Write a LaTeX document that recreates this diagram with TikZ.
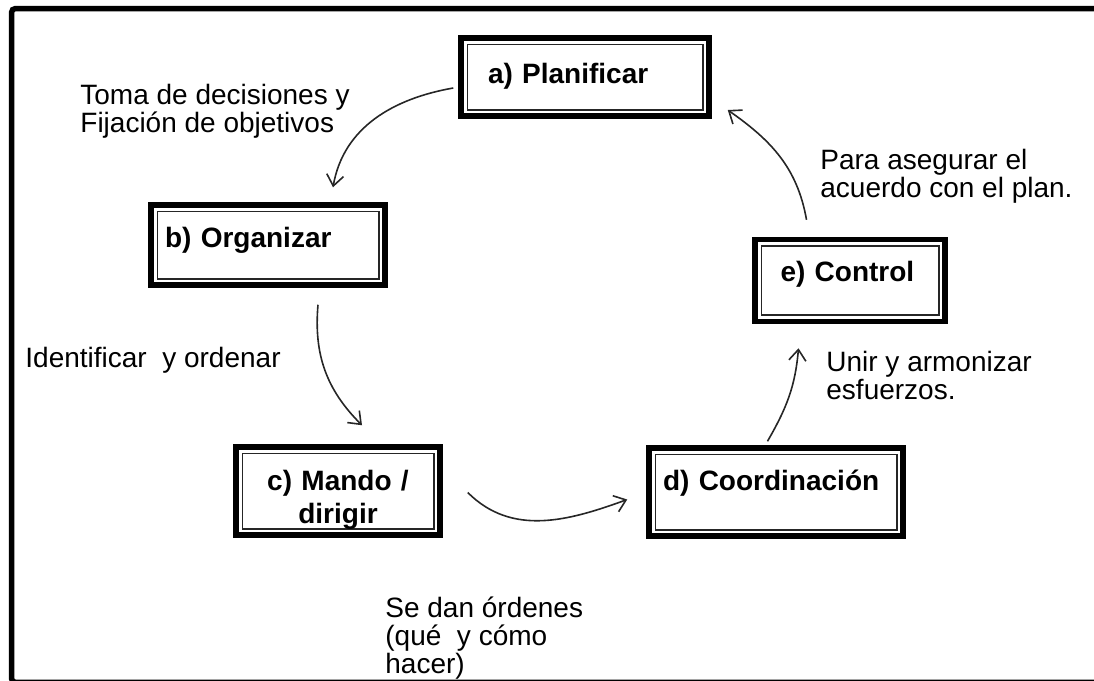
\documentclass[tikz,border=0pt]{standalone}
\usepackage{fontspec}
\setmainfont{Liberation Sans}
\usetikzlibrary{arrows.meta,positioning}

\begin{document}
\begin{tikzpicture}[node distance=100pt, >={Straight Barb[length=5.5pt,width=8.5pt]}]
    \useasboundingbox (0pt,0pt) rectangle (547pt,-340.5pt);
    \draw [line width=2.75pt, rounded corners=2pt] (5.75pt,-4.25pt) rectangle (560pt,-341.2pt);
    \tikzstyle{stage} = [rectangle, draw=black, line width=2.75pt, align=left, inner sep=0pt, text height=10pt, font=\bfseries\fontsize{14}{16.5}\selectfont, path picture={\draw [line width=0.9pt, draw=black!85] ([xshift=3.2pt,yshift=-3.2pt]path picture bounding box.north west) rectangle ([xshift=-3.2pt,yshift=3.2pt]path picture bounding box.south east);}]
    \node (a) [stage, text width=97pt, text depth=4pt, minimum width=124pt, minimum height=39pt] at (292.5pt,-38.5pt) {a) Planificar};
    \node (b) [stage, below of=a, xshift=-158.5pt, yshift=16pt, text width=103pt, text depth=8pt, minimum width=117pt, minimum height=40pt] {b) Organizar};
    \node (c) [stage, below of=b, xshift=35pt, yshift=-23pt, align=center, text width=90pt, text height=19pt, minimum width=102pt, minimum height=44pt] {c) Mando /\\dirigir};
    \node (d) [stage, right of=c, xshift=119pt, yshift=-0.5pt, text width=113pt, text depth=12pt, minimum width=127pt, minimum height=44pt] {d) Coordinación};
    \node (e) [stage, above of=d, xshift=37pt, yshift=5.75pt, text width=69.5pt, text depth=9pt, minimum width=95pt, minimum height=41pt] {e) Control};
    \tikzstyle{note} = [align=left, inner sep=0pt, anchor=north west, font=\fontsize{14}{14}\selectfont]
    \node (t1) [note] at (40pt,-42pt) {Toma de decisiones y\\Fijación de objetivos};
    \node (t2) [note] at (12.5pt,-173.5pt) {Identificar\ \ y ordenar};
    \node (t3) [note] at (192.5pt,-298pt) {Se dan órdenes\\(qué\ \ y cómo\\hacer)};
    \node (t4) [note] at (413pt,-175.5pt) {Unir y armonizar\\esfuerzos.};
    \node (t5) [note] at (410pt,-74.5pt) {Para asegurar el\\acuerdo con el plan.};
    \tikzstyle{link} = [->, line width=0.8pt, draw=black!85]
    \draw [link] ([xshift=-2.5pt,yshift=-5.5pt]a.west) to [out=190, in=80] ([xshift=32.5pt,yshift=7.5pt]b.north);
    \draw [link] ([xshift=25pt,yshift=-8.5pt]b.south) to [out=265, in=135] ([xshift=12pt,yshift=9.5pt]c.north);
    \draw [link] ([xshift=12.5pt,yshift=-0.75pt]c.east) to [out=-45, in=200] ([xshift=-9.5pt,yshift=-3.75pt]d.west);
    \draw [link] ([xshift=-4.25pt,yshift=2pt]d.north) to [out=60, in=265] ([xshift=-25.75pt,yshift=-12pt]e.south);
    \draw [link] ([xshift=-21.75pt,yshift=8.5pt]e.north) to [out=100, in=-35] ([xshift=8pt,yshift=-16.5pt]a.east);
\end{tikzpicture}
\end{document}
